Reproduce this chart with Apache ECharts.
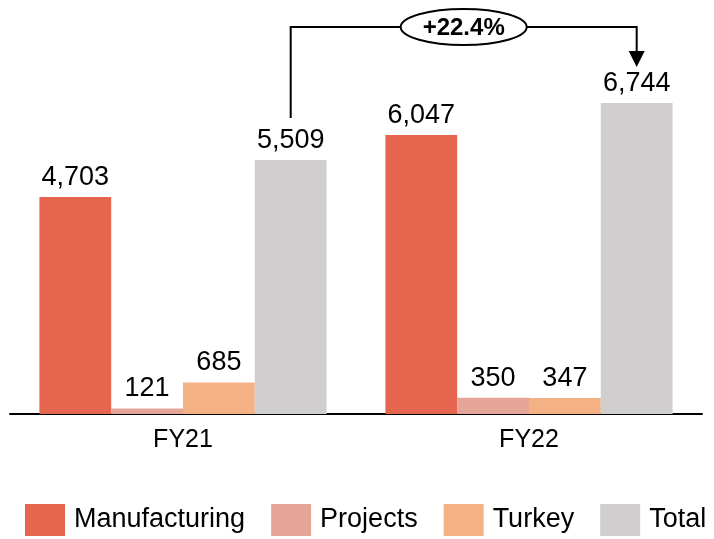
<!DOCTYPE html>
<html>
<head>
<meta charset="utf-8">
<script src="https://cdn.jsdelivr.net/npm/echarts@6/dist/echarts.min.js"></script>
<style>
  html,body{margin:0;padding:0;background:#fff;}
  #main{width:714px;height:539px;}
</style>
</head>
<body>
<div id="main"></div>
<script>
var years = ["FY21", "FY22"];
var manufacturing = [4703, 6047];
var projects = [121, 350];
var turkey = [685, 347];
var total = [5509, 6744];
var growthText = "+22.4%";

var colors = ["#E5654F", "#E5A699", "#F4B183", "#D0CECE"];
var font = "'Liberation Sans', Arial, sans-serif";
var gapPct = 17;

function fmt(v)
{
  return v.toLocaleString("en-US");
}

function makeSeries(name, data, color)
{
  return {
    name: name,
    type: "bar",
    data: data,
    barGap: "0%",
    barCategoryGap: gapPct + "%",
    itemStyle: {color: color},
    label: {
      show: true,
      position: "top",
      distance: 6,
      color: "#000",
      fontSize: 27,
      fontFamily: font,
      formatter: function(p){ return fmt(p.value); }
    }
  };
}

var chart = echarts.init(document.getElementById("main"));
var grid = {left: 10, right: 12, top: 45, bottom: 125};

chart.setOption({
  animation: false,
  grid: grid,
  legend: {
    bottom: 3,
    left: 25,
    right: 0,
    padding: 0,
    itemWidth: 40,
    itemHeight: 32,
    itemGap: 26,
    icon: "rect",
    textStyle: {fontSize: 27, fontFamily: font, color: "#000", padding: [0, 0, 0, 4]},
    data: ["Manufacturing", "Projects", "Turkey", "Total"]
  },
  xAxis: {
    type: "category",
    data: years,
    axisLine: {lineStyle: {color: "#000", width: 2}},
    axisTick: {show: false},
    axisLabel: {fontSize: 25, fontFamily: font, color: "#000", margin: 14}
  },
  yAxis: {
    type: "value",
    min: 0,
    max: 8000,
    show: false,
    splitLine: {show: false}
  },
  series: [
    makeSeries("Manufacturing", manufacturing, colors[0]),
    makeSeries("Projects", projects, colors[1]),
    makeSeries("Turkey", turkey, colors[2]),
    makeSeries("Total", total, colors[3])
  ]
});

// growth bracket between the two Total bars
function drawBracket()
{
  var p0 = chart.convertToPixel({seriesIndex: 3}, [0, total[0]]);
  var p1 = chart.convertToPixel({seriesIndex: 3}, [1, total[1]]);
  var band = (714 - grid.left - grid.right) / years.length;
  var barW = band * (1 - gapPct / 100) / 4;
  var x0 = p0[0] + 1.5 * barW;
  var x1 = p1[0] + 1.5 * barW;
  var topY = 27;
  var yStart = p0[1] - 42;
  var yEnd = p1[1] - 36;
  var midX = (x0 + x1) / 2;
  chart.setOption({
    graphic: [
      {
        type: "polyline",
        shape: {points: [[x0, yStart], [x0, topY], [x1, topY], [x1, yEnd - 12]]},
        style: {stroke: "#000", lineWidth: 2, fill: null},
        z: 10
      },
      {
        type: "polygon",
        shape: {points: [[x1 - 8, yEnd - 16], [x1 + 8, yEnd - 16], [x1, yEnd]]},
        style: {fill: "#000"},
        z: 10
      },
      {
        type: "ellipse",
        shape: {cx: midX, cy: topY, rx: 63, ry: 18},
        style: {fill: "#fff", stroke: "#000", lineWidth: 2},
        z: 11
      },
      {
        type: "text",
        x: midX,
        y: topY + 1,
        style: {
          text: growthText,
          fill: "#000",
          font: "bold 24px " + font,
          align: "center",
          verticalAlign: "middle"
        },
        z: 12
      }
    ]
  });
}
drawBracket();
</script>
</body>
</html>
